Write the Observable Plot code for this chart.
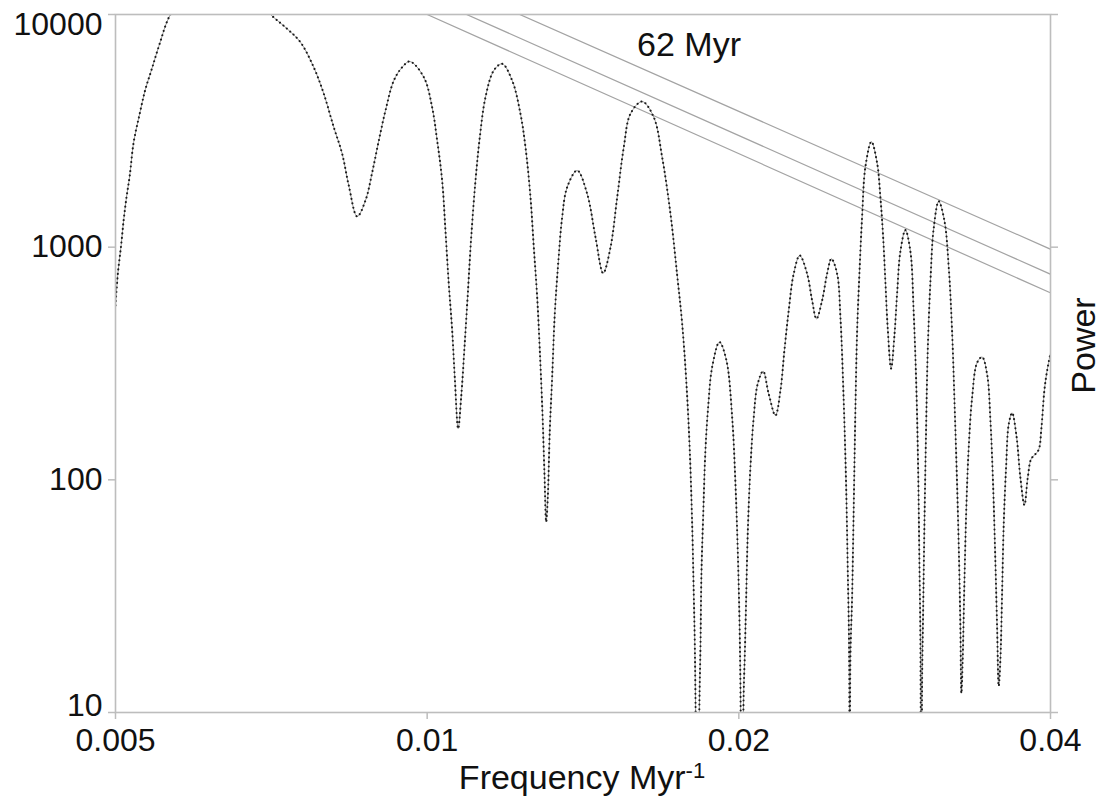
<!DOCTYPE html>
<html>
<head>
<meta charset="utf-8">
<script src="https://cdn.jsdelivr.net/npm/d3@7"></script>
<script src="https://cdn.jsdelivr.net/npm/@observablehq/plot@0.6"></script>
<style>
  html, body { margin: 0; padding: 0; background: #fff; }
  #chart { width: 1102px; height: 800px; }
</style>
</head>
<body>
<div id="chart"></div>
<script>
// ---- Spectrum: frequency in Myr^-1, power ----
const freq = [
  0.005, 0.005026, 0.005064, 0.005093, 0.005124, 0.005161, 0.005206, 0.005276, 0.005342, 0.005421,
  0.005518, 0.005642, 0.00585, 0.0061, 0.0064, 0.0067, 0.007058, 0.007324, 0.007544, 0.00777,
  0.007946, 0.008124, 0.008278, 0.0084, 0.008559, 0.008718, 0.00885, 0.00898, 0.009115, 0.009286,
  0.00946, 0.009622, 0.009926, 0.010111, 0.010225, 0.010339, 0.010415, 0.010492, 0.010572, 0.010633,
  0.010714, 0.010786, 0.010866, 0.010946, 0.011029, 0.011135, 0.011242, 0.011385, 0.011597, 0.011815,
  0.012081, 0.012306, 0.012444, 0.012583, 0.012676, 0.012772, 0.012847, 0.012924, 0.012981, 0.01303,
  0.013077, 0.013135, 0.013205, 0.013282, 0.013383, 0.013502, 0.013653, 0.01396, 0.014274, 0.014541,
  0.014792, 0.015035, 0.01526, 0.015485, 0.015717, 0.016131, 0.016552, 0.016864, 0.017179, 0.017436,
  0.017631, 0.0178, 0.017932, 0.018028, 0.018092, 0.018132, 0.01816, 0.018242, 0.018323, 0.018364,
  0.018404, 0.018474, 0.018568, 0.01868, 0.018847, 0.019157, 0.019456, 0.019705, 0.01985, 0.019952,
  0.020026, 0.020071, 0.02013, 0.020219, 0.020264, 0.020327, 0.0204, 0.020522, 0.020674, 0.020859,
  0.021111, 0.021375, 0.021696, 0.021939, 0.022134, 0.022347, 0.022596, 0.0229, 0.02328, 0.023541,
  0.023767, 0.024069, 0.024338, 0.024572, 0.024886, 0.02507, 0.025253, 0.025388, 0.025479, 0.025559,
  0.0256, 0.025632, 0.02573, 0.025787, 0.025862, 0.02592, 0.026017, 0.02615, 0.026309, 0.026503,
  0.026858, 0.0272, 0.027401, 0.027565, 0.027707, 0.02785, 0.028061, 0.028268, 0.028439, 0.028647,
  0.028968, 0.029291, 0.029507, 0.029686, 0.029798, 0.029885, 0.029951, 0.03001, 0.030065, 0.030132,
  0.03022, 0.030333, 0.030442, 0.030624, 0.03085, 0.031195, 0.031592, 0.031896, 0.032139, 0.032326,
  0.0325, 0.032645, 0.032737, 0.03281, 0.032905, 0.033031, 0.033178, 0.033349, 0.033602, 0.033977,
  0.034358, 0.034741, 0.034998, 0.035209, 0.035388, 0.035523, 0.035649, 0.035784, 0.035918, 0.036048,
  0.036241, 0.03645, 0.036727, 0.03708, 0.03741, 0.037746, 0.038025, 0.038314, 0.038621, 0.038967,
  0.0392, 0.039465, 0.039701, 0.04
];
const power = [
  562, 769, 1027, 1324, 1640, 2032, 2827, 3743, 4747, 5843,
  7530, 9900, 12300, 13800, 14200, 12600, 10000, 8680, 7603, 5935,
  4563, 3279, 2520, 1842, 1355, 1588, 2101, 2873, 3869, 5205,
  5935, 6281, 5378, 3996, 2873, 1934, 1180, 696, 439, 276,
  166, 227, 372, 630, 1104, 1934, 2970, 4412, 5745, 6139,
  5205, 3743, 2690, 1640, 1000, 610, 360, 192, 106, 66,
  84, 163, 276, 517, 849, 1345, 1811, 2136, 1696, 1104,
  773, 1000, 1640, 2690, 3743, 4227, 3620, 2437, 1392, 760,
  470, 259, 134, 64.8, 32.4, 20.4, 12.0, 2, 11.3, 19.1,
  39.5, 69.1, 134, 205, 305, 391, 326, 186, 96.2, 49.7,
  25.7, 13.3, 3, 12.4, 17.3, 30.3, 58.7, 113, 186, 259,
  293, 234, 189, 242, 360, 535, 769, 921, 769, 590,
  492, 590, 769, 892, 769, 500, 219, 96.2, 42.2, 18.5,
  1, 17.0, 31.3, 53.3, 114, 202, 432, 765, 1352, 2218,
  2840, 2305, 1637, 1118, 709, 449, 301, 416, 632, 960,
  1184, 960, 523, 244, 114, 44.0, 20.6, 1, 14.1, 26.8,
  64.4, 167, 357, 709, 1207, 1575, 1302, 825, 432, 202,
  94.2, 44.0, 23.1, 12.1, 17.0, 36.4, 77.9, 138, 226, 319,
  337, 284, 180, 94.2, 44, 23.1, 13.0, 17.0, 32.6, 64.4,
  114, 173, 194, 155, 102, 77.9, 102, 123, 128, 135,
  167, 244, 295, 350
];

// ---- Red-noise reference lines (power at f = 0.01 and f = 0.04) ----
const refNames = ["upper", "middle", "lower"];
const refFreqEnds = [0.01, 0.04];
const refPowerAtStart = [15000, 11900, 10000];
const refPowerAtEnd = [980, 765, 636];

// ---- Ticks and texts ----
const xTickValues = [0.005, 0.01, 0.02, 0.04];
const xTickLabels = ["0.005", "0.01", "0.02", "0.04"];
const yTickValues = [10, 100, 1000, 10000];
const yTickLabels = ["10", "100", "1000", "10000"];
const xTitle = "Frequency Myr";
const xTitleSup = "-1";
const yTitle = "Power";
const notes = [{label: "62 Myr", freq: 0.01595, power: 7400}];

// ---- Build tables ----
const spectrum = freq.map((f, i) => ({freq: f, power: power[i]}));
const refRows = refNames.flatMap((name, i) => [
  {name, freq: refFreqEnds[0], power: refPowerAtStart[i]},
  {name, freq: refFreqEnds[1], power: refPowerAtEnd[i]}
]);
const xFmt = d => xTickLabels[xTickValues.indexOf(d)];
const yFmt = d => yTickLabels[yTickValues.indexOf(d)];

const frameColor = "#bdbdbd";
const font = "'Liberation Sans', Arial, Helvetica, sans-serif";

const chart = Plot.plot({
  width: 1102,
  height: 800,
  marginLeft: 115,
  marginRight: 52,
  marginTop: 14,
  marginBottom: 88,
  style: {fontFamily: font, background: "#fff", color: "#111"},
  x: {type: "log", domain: [0.005, 0.04]},
  y: {type: "log", domain: [10, 10000]},
  marks: [
    // reference lines
    Plot.line(refRows, {x: "freq", y: "power", z: "name", stroke: "#a3a3a3", strokeWidth: 1.2, clip: true}),
    // spectrum: thin grey line with dark dots
    Plot.line(spectrum, {x: "freq", y: "power", stroke: "#9a9a9a", strokeWidth: 1, curve: "catmull-rom", clip: true}),
    Plot.line(spectrum, {x: "freq", y: "power", stroke: "#1a1a1a", strokeWidth: 2.1, strokeDasharray: "0.01 4.5", strokeLinecap: "round", curve: "catmull-rom", clip: true}),
    // frame
    Plot.frame({stroke: frameColor, strokeWidth: 1.6}),
    // left ticks
    Plot.axisY({anchor: "left", ticks: yTickValues, tickSize: 7, stroke: frameColor, strokeWidth: 1.5, tickFormat: () => "", label: null}),
    Plot.axisY({anchor: "left", ticks: [yTickValues[0]], tickSize: 0, tickPadding: 13, tickFormat: yFmt, fontSize: 32, fill: "#111", dy: -7, label: null}),
    Plot.axisY({anchor: "left", ticks: yTickValues.slice(1, 3), tickSize: 0, tickPadding: 13, tickFormat: yFmt, fontSize: 32, fill: "#111", label: null}),
    Plot.axisY({anchor: "left", ticks: yTickValues.slice(3), tickSize: 0, tickPadding: 13, tickFormat: yFmt, fontSize: 32, fill: "#111", dy: 10, label: null}),
    // right ticks
    Plot.axisY({anchor: "right", ticks: yTickValues, tickSize: 7, stroke: frameColor, strokeWidth: 1.5, tickFormat: () => "", label: null}),
    // bottom axis
    Plot.axisX({anchor: "bottom", ticks: xTickValues, tickSize: 7, tickPadding: 9, stroke: frameColor, strokeWidth: 1.5, tickFormat: xFmt, fontSize: 32, fill: "#111", label: null}),
    // titles
    Plot.text([xTitle], {frameAnchor: "bottom", textAnchor: "middle", dx: -1, dy: 76, fontSize: 34, fill: "#111"}),
    Plot.text([yTitle], {frameAnchor: "right", textAnchor: "middle", rotate: -90, dx: 34, dy: -18, fontSize: 34, fill: "#111"}),
    // annotation
    Plot.text(notes, {x: "freq", y: "power", text: "label", textAnchor: "start", fontSize: 34, fill: "#111"})
  ]
});

document.getElementById("chart").appendChild(chart);

// superscript on the x title
d3.select(chart).selectAll("text")
  .filter(function () { return this.textContent === xTitle; })
  .each(function () {
    d3.select(this).append("tspan")
      .attr("dy", "-0.5em")
      .attr("font-size", 22)
      .text(xTitleSup);
  });
</script>
</body>
</html>
